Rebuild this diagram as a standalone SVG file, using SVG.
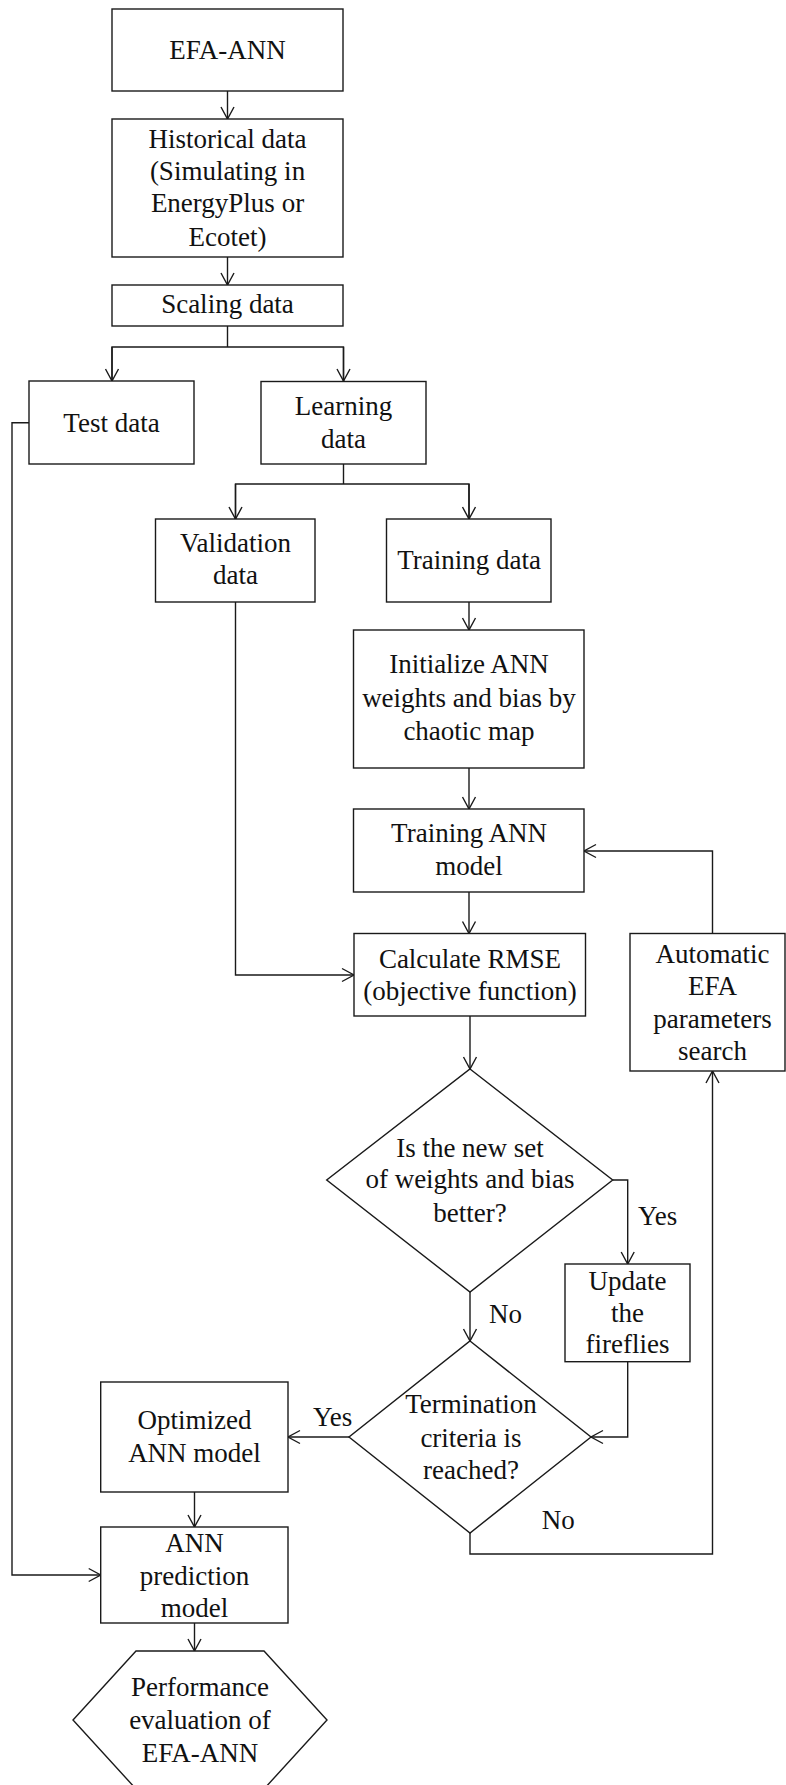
<svg xmlns="http://www.w3.org/2000/svg" width="786" height="1785" viewBox="0 0 786 1785">
  <style>
    .box { fill: #ffffff; stroke: #1a1a1a; stroke-width: 1.4; }
    .lbl { font-family: "Liberation Serif", "Times New Roman", serif; font-size: 27px; fill: #111111; text-anchor: middle; }
    .tag { font-family: "Liberation Serif", "Times New Roman", serif; font-size: 27px; fill: #111111; text-anchor: start; }
    .wire { fill: none; stroke: #1a1a1a; stroke-width: 1.4; }
  </style>
  <defs>
    <marker id="arrow" markerUnits="userSpaceOnUse" markerWidth="16" markerHeight="16" viewBox="-14 -8 16 16" refX="0" refY="0" orient="auto">
      <path d="M-12,-6.5 L0,0 L-12,6.5" fill="none" stroke="#1a1a1a" stroke-width="1.4"/>
    </marker>
  </defs>

  <rect width="786" height="1785" fill="#ffffff"/>

  <!-- connectors -->
  <g id="connectors">
    <path class="wire" d="M227.5,91 V119" marker-end="url(#arrow)"/>
    <path class="wire" d="M227.5,257 V285" marker-end="url(#arrow)"/>
    <path class="wire" d="M227.5,326 V347"/>
    <path class="wire" d="M112,381 V347 H343.5 V381" />
    <path class="wire" d="M112,347 V381" marker-end="url(#arrow)"/>
    <path class="wire" d="M343.5,347 V381" marker-end="url(#arrow)"/>
    <path class="wire" d="M343.5,464 V484"/>
    <path class="wire" d="M235.5,519 V484 H469 V519"/>
    <path class="wire" d="M235.5,484 V519" marker-end="url(#arrow)"/>
    <path class="wire" d="M469,484 V519" marker-end="url(#arrow)"/>
    <path class="wire" d="M469,602 V630" marker-end="url(#arrow)"/>
    <path class="wire" d="M469,768 V809" marker-end="url(#arrow)"/>
    <path class="wire" d="M469,892 V933.5" marker-end="url(#arrow)"/>
    <path class="wire" d="M235.5,602 V975 H354" marker-end="url(#arrow)"/>
    <path class="wire" d="M470,1016 V1069" marker-end="url(#arrow)"/>
    <path class="wire" d="M612.7,1180 H627.7 V1264" marker-end="url(#arrow)"/>
    <path class="wire" d="M470,1292 V1341" marker-end="url(#arrow)"/>
    <path class="wire" d="M627.7,1361.7 V1437 H591" marker-end="url(#arrow)"/>
    <path class="wire" d="M349,1437 H288" marker-end="url(#arrow)"/>
    <path class="wire" d="M470,1533 V1554 H712.5 V1071" marker-end="url(#arrow)"/>
    <path class="wire" d="M712.5,933.5 V851 H584" marker-end="url(#arrow)"/>
    <path class="wire" d="M194.5,1492 V1527" marker-end="url(#arrow)"/>
    <path class="wire" d="M29,422.7 H12 V1575 H100.7" marker-end="url(#arrow)"/>
    <path class="wire" d="M194.5,1623 V1651" marker-end="url(#arrow)"/>

    <text class="tag" x="638" y="1225">Yes</text>
    <text class="tag" x="489" y="1322.6">No</text>
    <text class="tag" x="313" y="1426">Yes</text>
    <text class="tag" x="541.7" y="1529">No</text>
  </g>

  <!-- nodes -->
  <g id="efa-ann">
    <rect class="box" x="112" y="9" width="231" height="82"/>
    <text class="lbl" x="227.5" y="59">EFA-ANN</text>
  </g>

  <g id="historical-data">
    <rect class="box" x="112" y="119" width="231" height="138"/>
    <text class="lbl" x="227.5" y="148">Historical data</text>
    <text class="lbl" x="227.5" y="180">(Simulating in</text>
    <text class="lbl" x="227.5" y="212.3">EnergyPlus or</text>
    <text class="lbl" x="227.5" y="245.7">Ecotet)</text>
  </g>

  <g id="scaling-data">
    <rect class="box" x="112" y="285" width="231" height="41"/>
    <text class="lbl" x="227.5" y="313">Scaling data</text>
  </g>

  <g id="test-data">
    <rect class="box" x="29" y="381" width="165" height="83"/>
    <text class="lbl" x="111.5" y="432">Test data</text>
  </g>

  <g id="learning-data">
    <rect class="box" x="261" y="381.5" width="165" height="82.5"/>
    <text class="lbl" x="343.5" y="415">Learning</text>
    <text class="lbl" x="343.5" y="447.5">data</text>
  </g>

  <g id="validation-data">
    <rect class="box" x="155.5" y="519" width="159.5" height="83"/>
    <text class="lbl" x="235.5" y="552">Validation</text>
    <text class="lbl" x="235.5" y="584">data</text>
  </g>

  <g id="training-data">
    <rect class="box" x="386.5" y="519" width="164.5" height="83"/>
    <text class="lbl" x="469" y="569">Training data</text>
  </g>

  <g id="initialize-ann">
    <rect class="box" x="353.5" y="630" width="230.5" height="138"/>
    <text class="lbl" x="469" y="673.3">Initialize ANN</text>
    <text class="lbl" x="469" y="706.7">weights and bias by</text>
    <text class="lbl" x="469" y="740">chaotic map</text>
  </g>

  <g id="training-ann-model">
    <rect class="box" x="353.5" y="809" width="230.5" height="83"/>
    <text class="lbl" x="469" y="842">Training ANN</text>
    <text class="lbl" x="469" y="875">model</text>
  </g>

  <g id="calculate-rmse">
    <rect class="box" x="354" y="933.5" width="231.5" height="82.5"/>
    <text class="lbl" x="470" y="968">Calculate RMSE</text>
    <text class="lbl" x="470" y="1000">(objective function)</text>
  </g>

  <g id="efa-parameter-search">
    <rect class="box" x="630" y="933.5" width="155" height="137.5"/>
    <text class="lbl" x="712.5" y="963">Automatic</text>
    <text class="lbl" x="712.5" y="995">EFA</text>
    <text class="lbl" x="712.5" y="1028">parameters</text>
    <text class="lbl" x="712.5" y="1060">search</text>
  </g>

  <g id="better-check">
    <polygon class="box" points="470,1069 612.7,1180 470,1292 326.7,1180"/>
    <text class="lbl" x="470" y="1156.7">Is the new set</text>
    <text class="lbl" x="470" y="1188.3">of weights and bias</text>
    <text class="lbl" x="470" y="1221.7">better?</text>
  </g>

  <g id="update-fireflies">
    <rect class="box" x="565" y="1264" width="125" height="97.7"/>
    <text class="lbl" x="627.5" y="1290">Update</text>
    <text class="lbl" x="627.5" y="1322">the</text>
    <text class="lbl" x="627.5" y="1353">fireflies</text>
  </g>

  <g id="termination-check">
    <polygon class="box" points="470,1341 591,1437 470,1533 349,1437"/>
    <text class="lbl" x="471" y="1413">Termination</text>
    <text class="lbl" x="471" y="1446.7">criteria is</text>
    <text class="lbl" x="471" y="1479.3">reached?</text>
  </g>

  <g id="optimized-ann">
    <rect class="box" x="100.7" y="1382" width="187.3" height="110"/>
    <text class="lbl" x="194.5" y="1429">Optimized</text>
    <text class="lbl" x="194.5" y="1462">ANN model</text>
  </g>

  <g id="ann-prediction">
    <rect class="box" x="100.7" y="1527" width="187.3" height="96"/>
    <text class="lbl" x="194.5" y="1552">ANN</text>
    <text class="lbl" x="194.5" y="1585">prediction</text>
    <text class="lbl" x="194.5" y="1617">model</text>
  </g>

  <g id="performance-evaluation">
    <polygon class="box" points="136,1651 264,1651 327,1720 264,1789 136,1789 73,1720"/>
    <text class="lbl" x="200" y="1696">Performance</text>
    <text class="lbl" x="200" y="1729">evaluation of</text>
    <text class="lbl" x="200" y="1762">EFA-ANN</text>
  </g>
</svg>
